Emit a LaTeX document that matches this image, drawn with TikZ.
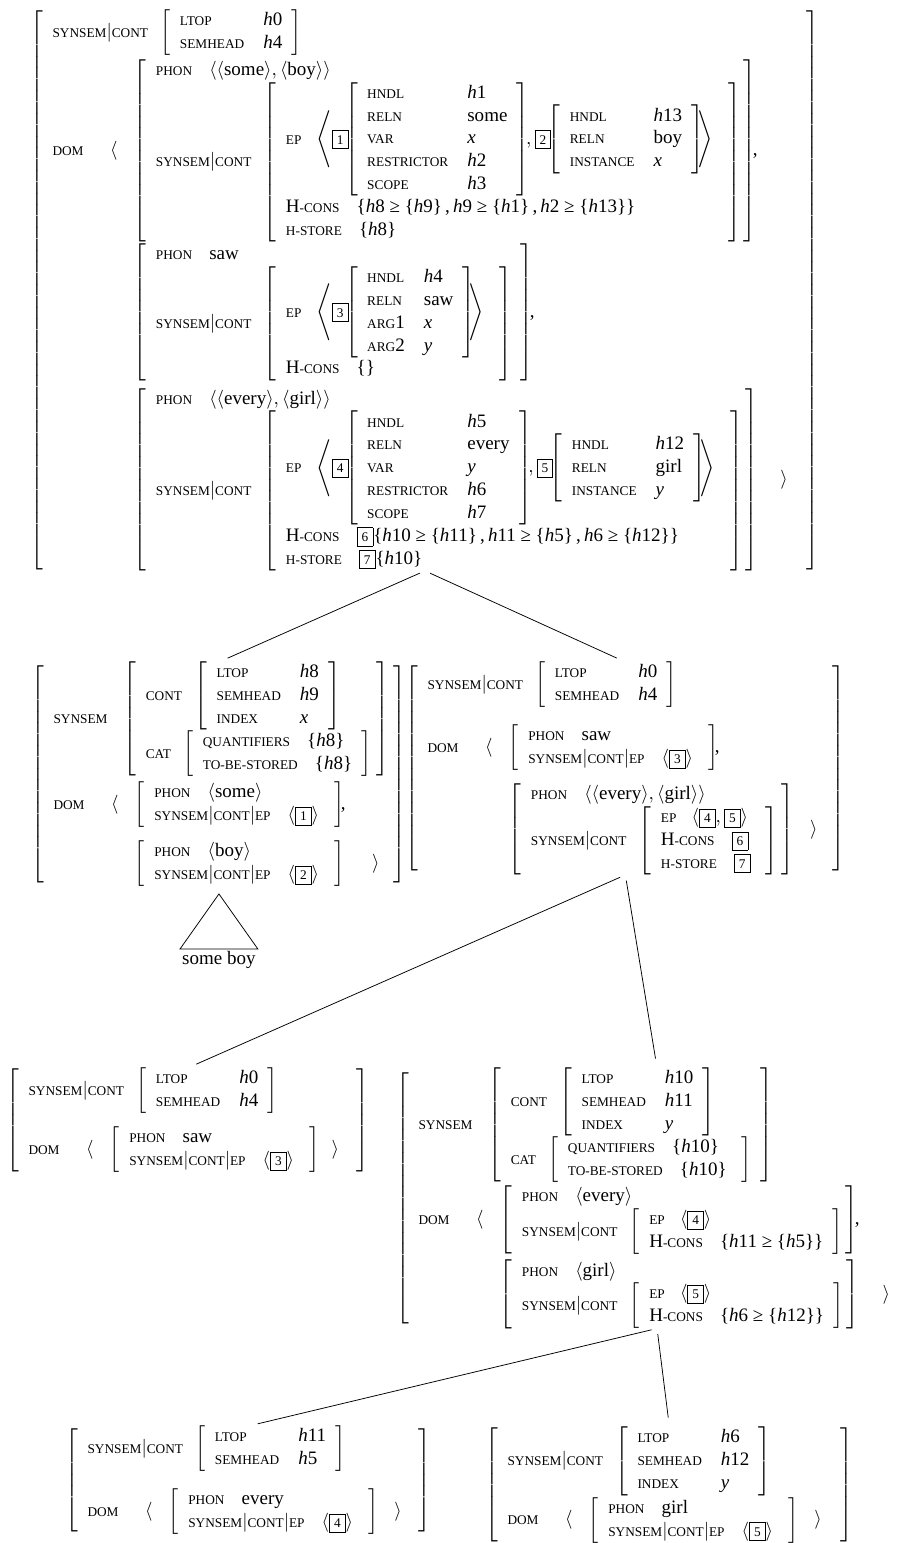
\documentclass[tikz,border=0pt]{standalone}
\usepackage{amsmath}
\usepackage{fontspec}
\setmainfont{Liberation Serif}
\usetikzlibrary{positioning}

\newcommand{\ft}[1]{{\fontsize{7}{8}\selectfont #1}}
\newcommand{\hv}[1]{\textit{h}#1}
\newcommand{\vr}[1]{\textit{#1}}
\setlength{\fboxsep}{2.2pt}
\setlength{\fboxrule}{0.4pt}
\newcommand{\tg}[1]{\fbox{\fontsize{7}{8}\selectfont #1}}
\newcommand{\avm}[2][5pt]{\kern-3.5pt\ensuremath{\left[\begin{tabular}{@{\hspace{5pt}}l@{\hspace{#1}}}#2\end{tabular}\right]}\kern-3.5pt}
\newcommand{\avmc}[1]{\kern-3.5pt\ensuremath{\left[\begin{tabular}{@{\hspace{5pt}}l@{\hspace{10pt}}l@{\hspace{5pt}}}#1\end{tabular}\right]}\kern-3.5pt}
\newcommand{\gap}[1]{\noalign{\vskip #1}}
\newcommand{\ssc}{\ft{SYNSEM}$|$\ft{CONT}}
\newcommand{\ep}[1]{\ft{SYNSEM}$|$\ft{CONT}$|$\ft{EP}\hspace{9pt}$\left\langle\tg{#1}\right\rangle$}
\newcommand{\hcons}{H\ft{-CONS}}

\begin{document}
\begin{tikzpicture}[x=0.526pt, y=-0.526pt,
  avmnode/.style={inner sep=0pt, outer sep=0pt, anchor=north west},
  branch/.style={shorten >=5pt, shorten <=3pt}]
\useasboundingbox (0,0) rectangle (903,1543);

\node[avmnode] (root) at (37,10) {\avm[10pt]{%
  \ssc\hspace{10pt}\avmc{\ft{LTOP} & \hv0 \\ \ft{SEMHEAD} & \hv4} \\ \gap{2pt}
  \ft{DOM}\hspace{14pt}\begin{tabular}[t]{@{}l@{\hspace{12pt}}l@{}l@{}}
    $\langle$ & \avm{\ft{PHON}\hspace{9pt}$\langle\langle$some$\rangle,\langle$boy$\rangle\rangle$ \\
      \ssc\hspace{10pt}\avm[8pt]{\ft{EP}\hspace{8pt}$\left\langle\tg1\avmc{\ft{HNDL} & \hv1 \\ \ft{RELN} & some \\ \ft{VAR} & \vr{x} \\ \ft{RESTRICTOR} & \hv2 \\ \ft{SCOPE} & \hv3},\tg2\avmc{\ft{HNDL} & \hv{13} \\ \ft{RELN} & boy \\ \ft{INSTANCE} & \vr{x}}\right\rangle$ \\
        \hcons\hspace{9pt}\{\hv8 ≥ \{\hv9\}\,,\,\hv9 ≥ \{\hv1\}\,,\,\hv2 ≥ \{\hv{13}\}\} \\
        \ft{H-STORE}\hspace{9pt}\{\hv8\}}}\,, & \\ \gap{1pt}
    & \avm[8pt]{\ft{PHON}\hspace{9pt}saw \\
      \ssc\hspace{10pt}\avm[8pt]{\ft{EP}\hspace{8pt}$\left\langle\tg3\avmc{\ft{HNDL} & \hv4 \\ \ft{RELN} & saw \\ \ft{ARG}1 & \vr{x} \\ \ft{ARG}2 & \vr{y}}\right\rangle$ \\
        \hcons\hspace{9pt}\{\}}}\,, & \\ \gap{4pt}
    & \avm{\ft{PHON}\hspace{9pt}$\langle\langle$every$\rangle,\langle$girl$\rangle\rangle$ \\
      \ssc\hspace{10pt}\avm[8pt]{\ft{EP}\hspace{8pt}$\left\langle\tg4\avmc{\ft{HNDL} & \hv5 \\ \ft{RELN} & every \\ \ft{VAR} & \vr{y} \\ \ft{RESTRICTOR} & \hv6 \\ \ft{SCOPE} & \hv7},\tg5\avmc{\ft{HNDL} & \hv{12} \\ \ft{RELN} & girl \\ \ft{INSTANCE} & \vr{y}}\right\rangle$ \\
        \hcons\hspace{9pt}\tg6\{\hv{10} ≥ \{\hv{11}\}\,,\,\hv{11} ≥ \{\hv5\}\,,\,\hv6 ≥ \{\hv{12}\}\} \\
        \ft{H-STORE}\hspace{9pt}\tg7\{\hv{10}\}}} & \hspace{12pt}$\rangle$
  \end{tabular}}};

\node[avmnode] (npboy) at (38,662) {\avm[6pt]{%
  \ft{SYNSEM}\hspace{12pt}\avm[6pt]{\ft{CONT}\hspace{10pt}\avmc{\ft{LTOP} & \hv8 \\ \ft{SEMHEAD} & \hv9 \\ \ft{INDEX} & \vr{x}} \\
    \ft{CAT}\hspace{10pt}\avm[5pt]{\ft{QUANTIFIERS}\hspace{9pt}\{\hv8\} \\ \ft{TO-BE-STORED}\hspace{9pt}\{\hv8\}}} \\ \gap{3pt}
  \ft{DOM}\hspace{14pt}\begin{tabular}[t]{@{}l@{\hspace{12pt}}l@{}l@{}}
    $\langle$ & \avm[8pt]{\ft{PHON}\hspace{9pt}$\langle$some$\rangle$ \\ \ep1}\,, & \\ \gap{7pt}
    & \avm[8pt]{\ft{PHON}\hspace{9pt}$\langle$boy$\rangle$ \\ \ep2} & \hspace{14pt}$\rangle$
  \end{tabular}}};

\node[avmnode] (vp1) at (412,662) {\avm[8pt]{%
  \ssc\hspace{10pt}\avmc{\ft{LTOP} & \hv0 \\ \ft{SEMHEAD} & \hv4} \\ \gap{9pt}
  \ft{DOM}\hspace{14pt}\begin{tabular}[t]{@{}l@{\hspace{12pt}}l@{}l@{}}
    $\langle$ & \avm[8pt]{\ft{PHON}\hspace{9pt}saw \\ \ep3}\,, & \\ \gap{7pt}
    & \avm{\ft{PHON}\hspace{9pt}$\langle\langle$every$\rangle,\langle$girl$\rangle\rangle$ \\
      \ssc\hspace{10pt}\avm[8pt]{\ft{EP}\hspace{8pt}$\left\langle\tg4,\tg5\right\rangle$ \\ \hcons\hspace{9pt}\tg6 \\ \ft{H-STORE}\hspace{9pt}\tg7}} & \hspace{12pt}$\rangle$
  \end{tabular}}};

\coordinate (roof) at ([yshift=-4pt]npboy.south);
\node[inner sep=1pt, below=33pt of npboy] (someboy) {some boy};
\draw (roof) -- (someboy.north west) -- (someboy.north east) -- cycle;

\node[avmnode] (vsaw) at (13,1068) {\avm[9pt]{%
  \ssc\hspace{10pt}\avmc{\ft{LTOP} & \hv0 \\ \ft{SEMHEAD} & \hv4} \\ \gap{7pt}
  \ft{DOM}\hspace{14pt}\begin{tabular}[t]{@{}l@{\hspace{12pt}}l@{}l@{}}
    $\langle$ & \avm[8pt]{\ft{PHON}\hspace{9pt}saw \\ \ep3} & \hspace{10pt}$\rangle$
  \end{tabular}}};

\node[avmnode] (npeg) at (403,1068) {\avm[8pt]{%
  \ft{SYNSEM}\hspace{12pt}\avm[8pt]{\ft{CONT}\hspace{10pt}\avmc{\ft{LTOP} & \hv{10} \\ \ft{SEMHEAD} & \hv{11} \\ \ft{INDEX} & \vr{y}} \\
    \ft{CAT}\hspace{10pt}\avm[8pt]{\ft{QUANTIFIERS}\hspace{9pt}\{\hv{10}\} \\ \ft{TO-BE-STORED}\hspace{9pt}\{\hv{10}\}}} \\ \gap{2pt}
  \ft{DOM}\hspace{14pt}\begin{tabular}[t]{@{}l@{\hspace{12pt}}l@{}l@{}}
    $\langle$ & \avm{\ft{PHON}\hspace{9pt}$\langle$every$\rangle$ \\
      \ssc\hspace{10pt}\avm[5pt]{\ft{EP}\hspace{8pt}$\left\langle\tg4\right\rangle$ \\ \hcons\hspace{9pt}\{\hv{11} ≥ \{\hv5\}\}}}\,, & \\ \gap{3pt}
    & \avm{\ft{PHON}\hspace{9pt}$\langle$girl$\rangle$ \\
      \ssc\hspace{10pt}\avm[5pt]{\ft{EP}\hspace{8pt}$\left\langle\tg5\right\rangle$ \\ \hcons\hspace{9pt}\{\hv6 ≥ \{\hv{12}\}\}}} & \hspace{12pt}$\rangle$
  \end{tabular}}};

\node[avmnode] (every) at (72,1426) {\avm[9pt]{%
  \ssc\hspace{10pt}\avmc{\ft{LTOP} & \hv{11} \\ \ft{SEMHEAD} & \hv5} \\ \gap{9pt}
  \ft{DOM}\hspace{14pt}\begin{tabular}[t]{@{}l@{\hspace{12pt}}l@{}l@{}}
    $\langle$ & \avm[8pt]{\ft{PHON}\hspace{9pt}every \\ \ep4} & \hspace{12pt}$\rangle$
  \end{tabular}}};

\node[avmnode] (girl) at (492,1427) {\avm[10pt]{%
  \ssc\hspace{10pt}\avmc{\ft{LTOP} & \hv6 \\ \ft{SEMHEAD} & \hv{12} \\ \ft{INDEX} & \vr{y}} \\ \gap{1pt}
  \ft{DOM}\hspace{14pt}\begin{tabular}[t]{@{}l@{\hspace{12pt}}l@{}l@{}}
    $\langle$ & \avm[8pt]{\ft{PHON}\hspace{9pt}girl \\ \ep5} & \hspace{12pt}$\rangle$
  \end{tabular}}};

\draw[branch] (root.south) -- (npboy.north);
\draw[branch] (root.south) -- (vp1.north);
\draw[branch] (vp1.south) -- (vsaw.north);
\draw[branch] (vp1.south) -- (npeg.north);
\draw[branch] (npeg.south) -- (every.north);
\draw[branch] (npeg.south) -- (girl.north);
\end{tikzpicture}
\end{document}
